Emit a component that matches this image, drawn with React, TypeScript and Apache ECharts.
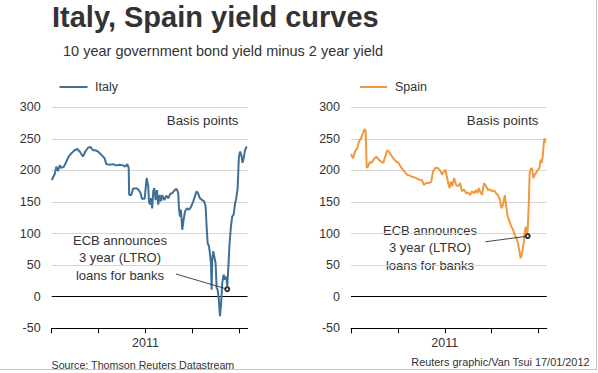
import React, { useEffect, useRef } from "react";
import * as echarts from "echarts";

// months since Jan 2010
const italyMonths = [0, 0.38, 0.59, 0.81, 1.02, 1.23, 1.57, 1.87, 2.17, 2.51, 2.94, 3.27, 3.58, 4.0, 4.3, 4.64, 4.99, 5.28, 5.58, 5.92, 6.34, 6.78, 6.98, 7.42, 7.84, 8.26, 8.7, 9.12, 9.41, 9.67, 9.85, 9.91, 10.18, 10.4, 10.82, 11.13, 11.38, 11.55, 11.89, 12.1, 12.15, 12.35, 12.44, 12.57, 12.7, 12.86, 12.99, 13.12, 13.3, 13.47, 13.63, 13.81, 13.98, 14.14, 14.4, 14.65, 14.91, 15.17, 15.42, 15.68, 15.98, 16.19, 16.28, 16.41, 16.53, 16.7, 16.88, 17.05, 17.3, 17.56, 17.81, 18.11, 18.32, 18.54, 18.75, 18.96, 19.26, 19.51, 19.69, 19.82, 19.95, 20.12, 20.24, 20.37, 20.46, 20.54, 20.67, 20.79, 20.97, 21.1, 21.23, 21.39, 21.52, 21.65, 21.82, 22.0, 22.16, 22.33, 22.46, 22.58, 22.76, 22.93, 23.09, 23.27, 23.44, 23.61, 23.79, 23.95, 24.12, 24.3, 24.42, 24.6, 24.73, 24.94];
const italyValues = [185, 194, 206, 199, 208, 204, 206, 214, 222, 227, 232, 234, 230, 222, 230, 236, 237, 232, 232, 230, 225, 219, 210, 209, 210, 208, 209, 208, 206, 210, 204, 161, 161, 171, 172, 169, 164, 155, 155, 182, 188, 175, 151, 146, 156, 140, 167, 172, 153, 169, 146, 161, 151, 161, 153, 160, 156, 163, 164, 168, 171, 164, 140, 127, 138, 106, 122, 135, 140, 138, 142, 151, 159, 167, 163, 156, 153, 151, 143, 111, 85, 80, 69, 53, 11, 59, 72, 64, 53, 14, 11, -5, -31, -15, 22, 35, 27, 32, 16, 43, 85, 111, 127, 130, 146, 156, 172, 222, 230, 222, 212, 222, 232, 238];

const spainMonths = [0, 0.26, 0.55, 0.8, 1.02, 1.24, 1.53, 1.75, 1.88, 2.01, 2.17, 2.39, 2.59, 2.94, 3.23, 3.54, 3.87, 4.13, 4.38, 4.64, 4.89, 5.15, 5.49, 5.79, 6.09, 6.35, 6.64, 6.93, 7.19, 7.5, 7.79, 8.14, 8.47, 8.77, 9.07, 9.32, 9.62, 9.92, 10.26, 10.51, 10.77, 11.11, 11.46, 11.66, 11.88, 12.09, 12.22, 12.43, 12.61, 12.77, 12.94, 13.19, 13.45, 13.7, 13.96, 14.21, 14.47, 14.73, 14.98, 15.24, 15.49, 15.75, 16.0, 16.18, 16.35, 16.51, 16.77, 17.02, 17.28, 17.53, 17.79, 18.04, 18.3, 18.56, 18.81, 19.07, 19.25, 19.45, 19.67, 19.83, 20.01, 20.18, 20.34, 20.52, 20.73, 20.95, 21.16, 21.37, 21.55, 21.71, 21.88, 22.06, 22.22, 22.35, 22.48, 22.61, 22.73, 22.86, 22.99, 23.15, 23.33, 23.5, 23.72, 23.92, 24.1, 24.27, 24.39, 24.52, 24.65, 24.74, 24.87];
const spainValues = [226, 219, 231, 235, 246, 250, 259, 266, 262, 204, 206, 213, 212, 218, 222, 217, 214, 212, 222, 232, 229, 224, 218, 214, 212, 206, 201, 197, 193, 192, 190, 189, 187, 185, 185, 177, 180, 180, 182, 199, 204, 204, 199, 193, 198, 201, 193, 180, 172, 182, 175, 188, 177, 175, 180, 167, 170, 164, 165, 161, 167, 164, 169, 164, 172, 167, 161, 180, 175, 169, 170, 167, 168, 164, 161, 153, 140, 146, 161, 146, 130, 122, 117, 111, 106, 98, 93, 85, 72, 61, 69, 82, 101, 111, 98, 106, 143, 196, 202, 204, 188, 193, 197, 201, 204, 217, 212, 222, 241, 251, 244];

// annotation: leader line start and ECB LTRO marker (month, bp)
const italyLeader = [[15.9, 36], [22.46, 12]];
const spainLeader = [[17.2, 87], [22.61, 96]];

const yTicks = [-50, 0, 50, 100, 150, 200, 250, 300];
const xTickLabels: Record<number, string> = { 12: "2011" };

const ITALY = "#3f7098";
const SPAIN = "#f0993d";
const TEXT = "#333";
const GRID = "#d6d6d6";
const FONT = "Liberation Sans, Arial, sans-serif";

export default function App() {
  const ref = useRef<HTMLDivElement>(null);
  useEffect(() => {
    if (!ref.current) return;
    const chart = echarts.init(ref.current, undefined, { renderer: "svg" });
    const gridTop = 107.3;
    const gridH = 221;
    const gridW = 195.8;
    const splitColors = yTicks.map((v) => (v === 0 ? "#000" : GRID));
    const mkX = (i: number) => ({
      type: "value",
      gridIndex: i,
      min: 0,
      max: 25.05,
      interval: 6,
      axisLine: { onZero: false, lineStyle: { color: "#000", width: 1 } },
      axisTick: { show: true, length: 5, lineStyle: { color: "#000" } },
      axisLabel: {
        showMaxLabel: false,
        formatter: (v: number) => xTickLabels[v] || "",
        color: TEXT,
        fontSize: 12.5,
        fontFamily: FONT,
        margin: 8,
      },
      splitLine: { show: false },
    });
    const mkY = (i: number) => ({
      type: "value",
      gridIndex: i,
      min: -50,
      max: 300,
      interval: 50,
      axisLine: { show: false },
      axisTick: { show: false },
      axisLabel: { color: TEXT, fontSize: 12.5, fontFamily: FONT, margin: 11 },
      splitLine: { show: true, lineStyle: { color: splitColors, width: 1 } },
    });
    const mkSeries = (i: number, name: string, xs: number[], ys: number[], color: string, leader: number[][]) => ({
      type: "line",
      name,
      xAxisIndex: i,
      yAxisIndex: i,
      data: xs.map((x, k) => [x, ys[k]]),
      showSymbol: false,
      symbol: "none",
      lineStyle: { color, width: 2 },
      markLine: {
        silent: true,
        animation: false,
        symbol: ["none", "emptyCircle"],
        symbolSize: 4,
        label: { show: false },
        lineStyle: { color: "#333", width: 0.9, type: "solid" },
        emphasis: { disabled: true },
        data: [[{ coord: leader[0] }, { coord: leader[1] }]],
      },
    });
    const txt = (x: number, y: number, text: string, size: number, opts: any = {}) => ({
      type: "text",
      x,
      y,
      silent: true,
      style: {
        text,
        fill: TEXT,
        fontSize: size,
        fontFamily: FONT,
        align: opts.align || "left",
        verticalAlign: "middle",
        fontWeight: opts.bold ? "bold" : "normal",
      },
    });
    chart.setOption({
      animation: false,
      grid: [
        { left: 51.7, top: gridTop, width: gridW, height: gridH },
        { left: 351, top: gridTop, width: gridW, height: gridH },
      ],
      xAxis: [mkX(0), mkX(1)],
      yAxis: [mkY(0), mkY(1)],
      series: [
        mkSeries(0, "Italy", italyMonths, italyValues, ITALY, italyLeader),
        mkSeries(1, "Spain", spainMonths, spainValues, SPAIN, spainLeader),
      ],
      graphic: [
        txt(52, 17, "Italy, Spain yield curves", 29, { bold: true }),
        txt(63, 51, "10 year government bond yield minus 2 year yield", 14.5),
        { type: "line", silent: true, shape: { x1: 59.5, y1: 87, x2: 87.5, y2: 87 }, style: { stroke: ITALY, lineWidth: 2 } },
        txt(95, 87, "Italy", 12.5),
        { type: "line", silent: true, shape: { x1: 360, y1: 87, x2: 387, y2: 87 }, style: { stroke: SPAIN, lineWidth: 2 } },
        txt(395, 87, "Spain", 12.5),
        txt(238.5, 120, "Basis points", 13.3, { align: "right" }),
        txt(538.5, 120, "Basis points", 13.3, { align: "right" }),
        txt(120, 240, "ECB announces", 13, { align: "center" }),
        txt(120, 257.5, "3 year (LTRO)", 13, { align: "center" }),
        txt(120, 275, "loans for banks", 13, { align: "center" }),
        txt(430, 230, "ECB announces", 13, { align: "center" }),
        txt(430, 247.5, "3 year (LTRO)", 13, { align: "center" }),
        txt(430, 265, "loans for banks", 13, { align: "center" }),
        txt(51.5, 364.5, "Source: Thomson Reuters Datastream", 10.7),
        txt(589.5, 362, "Reuters graphic/Van Tsui 17/01/2012", 10.9, { align: "right" }),
        { type: "line", silent: true, shape: { x1: 596.5, y1: 0, x2: 596.5, y2: 369.5 }, style: { stroke: "#c4c4c4", lineWidth: 1 } },
        { type: "line", silent: true, shape: { x1: 0, y1: 369.5, x2: 597, y2: 369.5 }, style: { stroke: "#c4c4c4", lineWidth: 1 } },
      ],
    });
    return () => chart.dispose();
  }, []);
  return (
    <div
      ref={ref}
      style={{ position: "absolute", left: 0, top: 0, width: 598, height: 373, background: "#fff" }}
    />
  );
}
